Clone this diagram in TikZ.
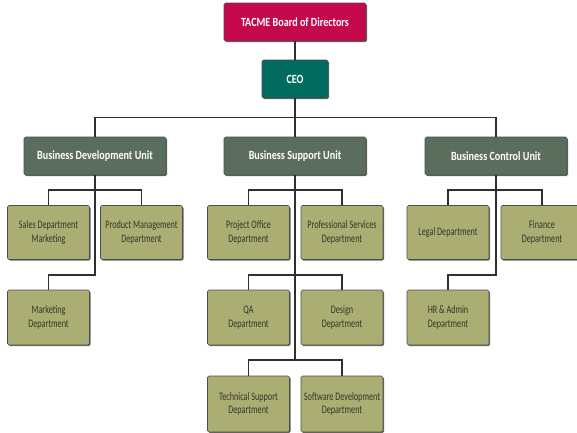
\documentclass[tikz,border=0pt]{standalone}
\usepackage{fontspec}
\setmainfont{Carlito}
\newfontfamily\condfont[FakeStretch=0.71]{Carlito}
\newfontfamily\boldcond[FakeStretch=0.81]{Carlito}
\usetikzlibrary{shadows}
\definecolor{boardred}{HTML}{C5084B}
\definecolor{ceoteal}{HTML}{006B5E}
\definecolor{unitgreen}{HTML}{5B6E5D}
\definecolor{deptolive}{HTML}{ABAE73}
\definecolor{linegray}{HTML}{2F2F2F}
\definecolor{depttext}{HTML}{35352A}
\tikzset{
  base/.style={draw=black!70, line width=0.6pt, rounded corners=1.5pt, inner sep=0pt, align=center,
    drop shadow={shadow xshift=1pt, shadow yshift=-1.2pt, opacity=0.6, fill=black}},
  topbox/.style={base, text=white, font=\boldcond\bfseries\fontsize{12.5}{14}\selectfont, minimum height=38pt},
  unitbox/.style={base, fill=unitgreen, text=white, font=\boldcond\bfseries\fontsize{12.5}{14}\selectfont, minimum width=142pt, minimum height=38pt},
  deptbox/.style={base, fill=deptolive, text=depttext, font=\condfont\fontsize{11.5}{13.5}\selectfont, minimum width=82pt, minimum height=54pt},
  conn/.style={draw=linegray, line width=1.5pt}
}
\begin{document}
\begin{tikzpicture}[x=1pt,y=-1pt]
\useasboundingbox (0,0) rectangle (577,432);
\clip (0,0) rectangle (577,432);
\coordinate (bdutop) at (95,117.5);
\coordinate (bdbar) at (95,190);
\coordinate (bdlow) at (95,275);
\coordinate (bsbar) at (295,190);
\coordinate (bsmid) at (295,275);
\coordinate (bslow) at (295,360);
\coordinate (bcbar) at (496,190);
\coordinate (bclow) at (496,275);
\node[topbox, fill=boardred, minimum width=142pt] (board) at (295,22) {TACME Board of Directors};
\node[topbox, fill=ceoteal, minimum width=66pt] (ceo) at (295,79) {CEO};
\node[unitbox] (bdu) at (95,156) {Business Development Unit};
\node[unitbox] (bsu) at (295,156) {Business Support Unit};
\node[unitbox] (bcu) at (496,156) {Business Control Unit};
\draw[conn] (board.south) -- (ceo.north);
\draw[conn] (ceo.south) -- (bsu.north);
\draw[conn] (bdu.north) |- (bdutop) -| (bcu.north);
\draw[conn] (bdu.south) -- (bdlow) -| (48.5,290);
\draw[conn] (bsu.south) -- (bslow);
\draw[conn] (bcu.south) -- (bclow) -| (448,290);
\draw[conn] (48.5,206) |- (bdbar) -| (141.5,206);
\draw[conn] (248.5,206) |- (bsbar) -| (342,206);
\draw[conn] (248.5,290) |- (bsmid) -| (342,290);
\draw[conn] (248.5,376) |- (bslow) -| (342,376);
\draw[conn] (448,206) |- (bcbar) -| (542,206);
\node[deptbox] (sales) at (48.5,232.5) {Sales Department\\Marketing};
\node[deptbox] (prod) at (141.5,232.5) {Product Management\\Department};
\node[deptbox] (proj) at (248.5,232.5) {Project Office\\Department};
\node[deptbox] (prof) at (342,232.5) {Professional Services\\Department};
\node[deptbox] (legal) at (448,232.5) {Legal Department};
\node[deptbox] (fin) at (542,232.5) {Finance\\Department};
\node[deptbox, minimum height=55pt] (mkt) at (48.5,317.5) {Marketing\\Department};
\node[deptbox, minimum height=55pt] (qa) at (248.5,317.5) {QA\\Department};
\node[deptbox, minimum height=55pt] (design) at (342,317.5) {Design\\Department};
\node[deptbox, minimum height=55pt] (hr) at (448,317.5) {HR \& Admin\\Department};
\node[deptbox, minimum height=56pt] (tech) at (248.5,404) {Technical Support\\Department};
\node[deptbox, minimum height=56pt] (soft) at (342,404) {Software Development\\Department};
\end{tikzpicture}
\end{document}
